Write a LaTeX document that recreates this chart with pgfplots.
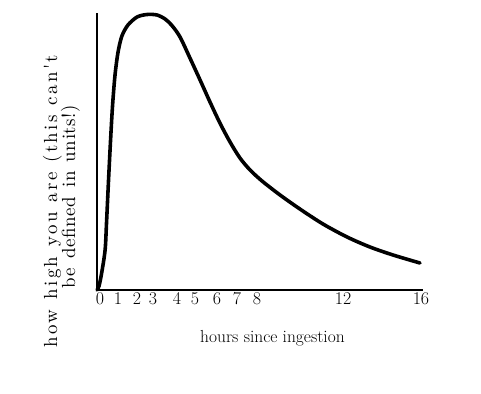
\documentclass[border=0pt]{standalone}
\usepackage{fontspec}
\newfontfamily\labfontA{lmroman10-regular.otf}[LetterSpace=12]
\newfontfamily\labfontB{lmroman10-regular.otf}[LetterSpace=3]
\usepackage{pgfplots}
\pgfplotsset{compat=1.18}
\begin{document}
\begin{tikzpicture}[x=1bp,y=1bp]
\useasboundingbox (0,0) rectangle (481,393);
\begin{axis}[
  at={(97bp,103bp)}, anchor=south west,
  scale only axis, width=326bp, height=277bp,
  xmin=0, xmax=16.1, ymin=0, ymax=277,
  axis x line=bottom, axis y line=left,
  axis line style={-, line width=1.5pt, black},
  ytick=\empty,
  xtick={0.15,1.04,1.98,2.77,3.95,4.84,5.93,6.91,7.9,12.15,16},
  xticklabels={0,1,2,3,4,5,6,7,8,12,16},
  major tick length=0pt,
  xticklabel style={anchor=north, inner sep=0pt, yshift=-2bp, font=\fontsize{18}{20}\selectfont},
  clip=false,
]
\addplot[black, line width=3.6pt, smooth, tension=0.5, line cap=round] coordinates {
(0,0) (0.10,4) (0.23,17) (0.40,40) (0.47,67) (0.57,110) (0.67,150) (0.77,185)
(0.89,215) (1.04,238) (1.23,254) (1.53,265) (1.98,273) (2.47,275.5) (2.96,275)
(3.36,271) (3.70,264.5) (4.10,253) (4.59,232) (5.09,210) (5.58,188) (6.07,167)
(6.57,148) (7.06,132) (7.56,120) (8.15,109) (9.04,95) (10.02,81) (11.16,66)
(12.35,53) (13.48,43) (14.62,35) (15.95,27)
};
\end{axis}
\node[rotate=90, anchor=base, inner sep=0pt, font=\labfontA\fontsize{19}{21}\selectfont] at (57,192) {\makebox[292bp][s]{how high you are (this can't}};
\node[rotate=90, anchor=base, inner sep=0pt, font=\labfontB\fontsize{19}{21}\selectfont] at (75,196.5) {\makebox[183bp][s]{be defined in units!)}};
\node[anchor=base, font=\fontsize{17.5}{19}\selectfont] at (272.5,51) {hours since ingestion};
\end{tikzpicture}
\end{document}
